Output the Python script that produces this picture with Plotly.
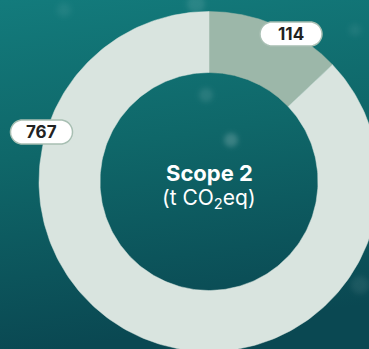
import base64
import numpy as np
import plotly.graph_objects as go

# Scope 2 emissions split (t CO2eq)
categories = ["Segment A", "Segment B"]
values = [114, 767]
label_text = ["114", "767"]
seg_colors = ["#9cb7a9", "#d9e4df"]

title_main = "Scope 2"
title_unit = "(t CO<sub>2</sub>eq)"

W, H = 369, 349
CX, CY = 209, 181.5          # donut centre in pixels from top-left
R_OUT, R_IN = 170, 109

# Background: deep-water teal gradient with a few soft bubbles
svg = f"""<svg xmlns='http://www.w3.org/2000/svg' width='{W}' height='{H}' viewBox='0 0 {W} {H}'>
<defs>
<linearGradient id='g' x1='0' y1='0' x2='0.15' y2='1'>
<stop offset='0' stop-color='#137b7c'/>
<stop offset='0.45' stop-color='#0f6769'/>
<stop offset='1' stop-color='#0a4852'/>
</linearGradient>
<filter id='b'><feGaussianBlur stdDeviation='2.5'/></filter>
</defs>
<rect width='{W}' height='{H}' fill='url(#g)'/>
<g filter='url(#b)' fill='#ffffff'>
<circle cx='231' cy='140' r='7' opacity='0.18'/>
<circle cx='206' cy='95' r='7' opacity='0.10'/>
<circle cx='196' cy='4' r='9' opacity='0.10'/>
<circle cx='64' cy='10' r='7' opacity='0.06'/>
<circle cx='360' cy='285' r='9' opacity='0.07'/>
<circle cx='355' cy='30' r='6' opacity='0.06'/>
</g>
</svg>"""
bg_uri = "data:image/svg+xml;base64," + base64.b64encode(svg.encode()).decode()

fig = go.Figure()

# Donut segments, clockwise from 12 o'clock, drawn as filled ring sectors
total = sum(values)
start = 90.0
for name, v, col in zip(categories, values, seg_colors):
    sweep = 360.0 * v / total
    th = np.radians(np.linspace(start, start - sweep, 240))
    xs = np.concatenate([R_OUT * np.cos(th), R_IN * np.cos(th[::-1])])
    ys = np.concatenate([R_OUT * np.sin(th), R_IN * np.sin(th[::-1])])
    xs = np.append(xs, xs[0])
    ys = np.append(ys, ys[0])
    fig.add_trace(go.Scatter(
        x=xs, y=ys, mode="lines", fill="toself", fillcolor=col,
        line=dict(color=col, width=0.5), name=name, hoverinfo="skip",
        showlegend=False,
    ))
    start -= sweep


def pill(cx, cy, w, h, n=24):
    """Rounded label box centred at (cx, cy), as a polyline path."""
    r = h / 2
    pts = []
    # right cap, bottom -> top
    for t in np.linspace(-np.pi / 2, np.pi / 2, n):
        pts.append((cx + w / 2 - r + r * np.cos(t), cy + r * np.sin(t)))
    # left cap, top -> bottom
    for t in np.linspace(np.pi / 2, 3 * np.pi / 2, n):
        pts.append((cx - w / 2 + r + r * np.cos(t), cy + r * np.sin(t)))
    d = "M " + " L ".join(f"{x:.2f},{y:.2f}" for x, y in pts) + " Z"
    return d


# Value labels (pixel positions converted to axis units)
label_px = [(291, 34), (41.5, 132)]
for txt, (px, py) in zip(label_text, label_px):
    ax, ay = px - CX, CY - py
    fig.add_shape(type="path", path=pill(ax, ay, 62, 24),
                  fillcolor="#ffffff", line=dict(color="#a8bfb3", width=1.5),
                  layer="above")
    fig.add_annotation(x=ax, y=ay, text=f"<b>{txt}</b>", showarrow=False,
                       font=dict(family="Inter", size=17, color="#222222"),
                       xanchor="center", yanchor="middle")

# Centre title
fig.add_annotation(x=0, y=CY - 173, text=f"<b>{title_main}</b>", showarrow=False,
                   font=dict(family="Inter", size=22, color="#ffffff"),
                   xanchor="center", yanchor="middle")
fig.add_annotation(x=0, y=CY - 199, text=title_unit, showarrow=False,
                   font=dict(family="Inter", size=21, color="#ffffff"),
                   xanchor="center", yanchor="middle")

fig.update_layout(
    width=W, height=H,
    margin=dict(l=0, r=0, t=0, b=0),
    paper_bgcolor="#0f6769",
    plot_bgcolor="rgba(0,0,0,0)",
    images=[dict(source=bg_uri, xref="paper", yref="paper", x=0, y=1,
                 sizex=1, sizey=1, xanchor="left", yanchor="top",
                 sizing="stretch", layer="below")],
    xaxis=dict(range=[-CX, W - CX], visible=False, fixedrange=True),
    yaxis=dict(range=[CY - H, CY], visible=False, fixedrange=True),
    showlegend=False,
)

fig.write_html("out.html", config={"displayModeBar": False})
